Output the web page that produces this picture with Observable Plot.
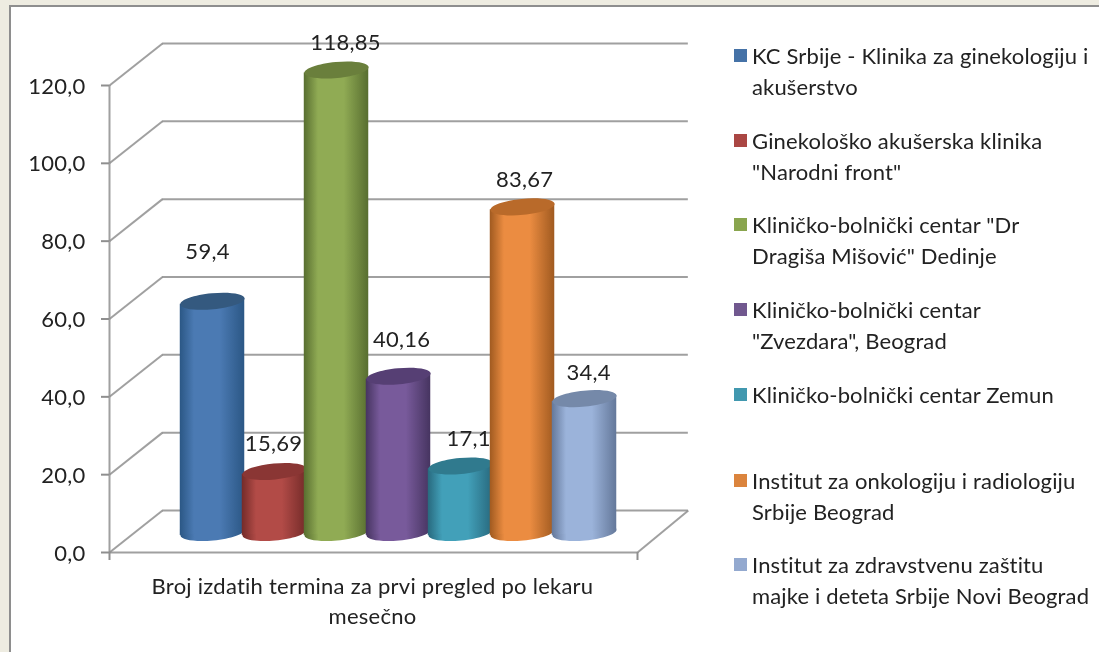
<!DOCTYPE html>
<html><head><meta charset="utf-8">
<script src="https://cdn.jsdelivr.net/npm/d3@7"></script>
<script src="https://cdn.jsdelivr.net/npm/@observablehq/plot@0.6"></script>
<style>
html,body{margin:0;padding:0;background:#eeece1;width:1099px;height:652px;overflow:hidden}
#panel{position:absolute;left:9px;top:5px;width:1090px;height:647px;box-sizing:border-box;background:#fff;border:2px solid #8e8e8e;border-right:none;border-bottom:none}
#chart{position:absolute;left:0;top:0}
#legend{position:absolute;left:0;top:0;font:22px Lato,sans-serif;color:#222;filter:blur(.45px)}
.sw{position:absolute;left:734px;width:13px;height:13px}
.lb{position:absolute;left:752px;line-height:30.5px;white-space:pre;letter-spacing:.15px}
svg{filter:blur(.45px)}
svg text{letter-spacing:.25px}
</style></head><body>
<div id="panel"></div><div id="chart"></div><div id="legend"></div>
<script>
const categories=["KC Srbije - Klinika za ginekologiju i\nakušerstvo","Ginekološko akušerska klinika\n\"Narodni front\"","Kliničko-bolnički centar \"Dr\nDragiša Mišović\" Dedinje","Kliničko-bolnički centar\n\"Zvezdara\", Beograd","Kliničko-bolnički centar Zemun","Institut za onkologiju i radiologiju\nSrbije Beograd","Institut za zdravstvenu zaštitu\nmajke i deteta Srbije Novi Beograd"];
const values=[59.4,15.69,118.85,40.16,17.1,83.67,34.4];
const valueLabels=["59,4","15,69","118,85","40,16","17,1","83,67","34,4"];
const axisTicks=[0,20,40,60,80,100,120];
const axisTitle="Broj izdatih termina za prvi pregled po lekaru\nmesečno";
const legendColors=["#4572a7","#aa4643","#89a54e","#71588f","#4198af","#db843d","#93a9cf"];
const bodyColors=["#4b7ab3","#b24b47","#90ab54","#785a9b","#42a0b9","#eb8c41","#9bb3da"];
const edgeColors=["#2b5785","#742b29","#586e30","#463460","#28697e","#a05a20","#64789a"];
const capColors=["#34597f","#8a3634","#6a7f3c","#563f74","#307a8e","#b96a2a","#7589a9"];

const font="Lato, sans-serif", ink="#222", grid="#8f8f8f";
const xMin=-.726,xMax=7.79,depthX=.855,depthXRight=.82,depthY=10.8,tiltY=.75,over=.02;
const depthDx=27,depthDy=-20;
const labelDy=[-69,-47,-47,-56,-47,-46.5,-46];
const labelDx=[-5,-1,9,3,8,2,4];
const gridStyle={stroke:grid,strokeWidth:2,strokeOpacity:.85};

const gradients=()=>{
  const defs=d3.create("svg:defs");
  values.forEach((_,i)=>{
    const g=defs.append("linearGradient").attr("id","cyl"+i);
    [[0,edgeColors[i]],[.22,bodyColors[i]],[.62,bodyColors[i]],[1,edgeColors[i]]].forEach(([o,c])=>g.append("stop").attr("offset",o).attr("stop-color",c));
  });
  return defs.node();
};
const ellipse=(a,b,tilt)=>({draw(ctx){
  const k=.5523,c=Math.cos(tilt),s=Math.sin(tilt),p=(u,v)=>[u*c-v*s,u*s+v*c];
  const M=(f,...q)=>ctx[f](...q.flatMap(([u,v])=>p(u,v)));
  M("moveTo",[a,0]);
  M("bezierCurveTo",[a,k*b],[k*a,b],[0,b]);
  M("bezierCurveTo",[-k*a,b],[-a,k*b],[-a,0]);
  M("bezierCurveTo",[-a,-k*b],[-k*a,-b],[0,-b]);
  M("bezierCurveTo",[k*a,-b],[a,-k*b],[a,0]);
  ctx.closePath();
}});
const cap=ellipse(32.2,8,-.095);

const cylinder=(v,i)=>{
  const ends=[i-over,i+1+over], mid=[i+.5];
  const pos={dx:depthDx,dy:depthDy};
  return [
    Plot.dot(mid,{x:d=>d,y:()=>0,symbol:cap,r:8,fill:`url(#cyl${i})`,stroke:"none",...pos}),
    Plot.areaY(ends,{x:d=>d,y1:(d,j)=>j?tiltY:-tiltY,y2:(d,j)=>v+(j?tiltY:-tiltY),fill:`url(#cyl${i})`,...pos}),
    Plot.dot(mid,{x:d=>d,y:()=>v,symbol:cap,r:8,fill:capColors[i],stroke:"none",...pos}),
    Plot.text([valueLabels[i]],{x:()=>i+.5,y:()=>v,text:d=>d,dx:depthDx+labelDx[i],dy:labelDy[i],fontSize:22,fontFamily:font,fill:ink})
  ];
};

const plot=Plot.plot({
  width:700,height:652,marginLeft:109,marginRight:63,marginTop:85,marginBottom:100,
  style:{background:"transparent",overflow:"visible"},
  x:{type:"linear",domain:[xMin,xMax],axis:null},
  y:{domain:[0,120],axis:null},
  marks:[
    gradients,
    Plot.ruleY(axisTicks,{y:d=>d+depthY,x1:()=>xMin+depthX,x2:()=>xMax+depthXRight,...gridStyle}),
    Plot.link(axisTicks,{x1:()=>xMin,y1:d=>d,x2:()=>xMin+depthX,y2:d=>d+depthY,...gridStyle}),
    Plot.link([0],{x1:()=>xMax,y1:d=>d,x2:()=>xMax+depthXRight,y2:d=>d+depthY,...gridStyle}),
    Plot.ruleX([xMin],{y1:0,y2:120,...gridStyle}),
    Plot.ruleY([0],{x1:()=>xMin,x2:()=>xMax,...gridStyle}),
    Plot.axisY(axisTicks,{anchor:"left",tickSize:8,text:null,stroke:grid,strokeWidth:2,label:null}),
    Plot.text(axisTicks,{y:d=>d,frameAnchor:"left",dx:-24,dy:1,textAnchor:"end",fontSize:22,fontFamily:font,fill:ink,text:d=>d.toFixed(1).replace(".",",")}),
    Plot.axisX([xMin,xMax],{anchor:"bottom",tickSize:8,stroke:grid,strokeWidth:2,tickFormat:()=>"",label:null}),
    ...values.flatMap(cylinder),
    Plot.text([axisTitle],{x:()=>(xMin+xMax)/2,y:()=>0,text:d=>d,dx:-1,dy:47,fontSize:22,fontFamily:font,fill:ink,lineHeight:1.37,lineAnchor:"middle"})
  ]
});
document.getElementById("chart").append(plot);

const legendTops=[41,126,210,295,380,466,550];
const legend=d3.select("#legend");
categories.forEach((c,i)=>{
  legend.append("div").attr("class","sw").style("top",(legendTops[i]+8)+"px").style("background",legendColors[i]);
  legend.append("div").attr("class","lb").style("top",legendTops[i]+"px").text(c);
});
</script></body></html>
